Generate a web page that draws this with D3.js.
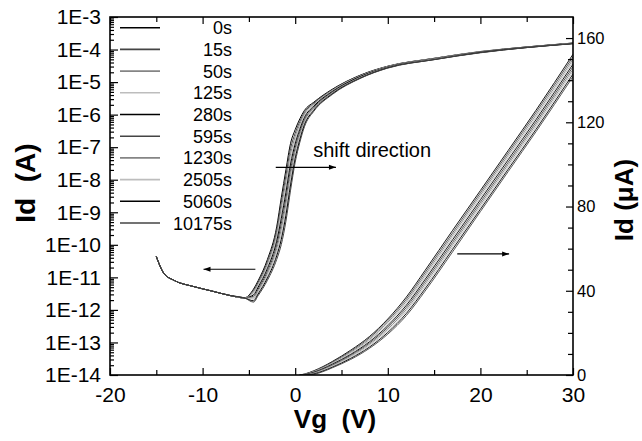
<!DOCTYPE html>
<html><head><meta charset="utf-8">
<script src="https://cdn.jsdelivr.net/npm/d3@7"></script>
<style>
html,body{margin:0;padding:0;background:#fff;}
svg{display:block;font-family:"Liberation Sans",Arial,sans-serif;}
</style></head>
<body><svg id="c" width="642" height="441"></svg>
<script>
// ---- data ----
const seriesNames = ["0s","15s","50s","125s","280s","595s","1230s","2505s","5060s","10175s"];
const seriesColors = ["#000000","#444444","#858585","#bdbdbd","#000000","#444444","#858585","#bdbdbd","#000000","#444444"];

// Log transfer curves (left axis): off-state part, shared by all stress times
const vgOff = [-15, -14.2, -13.1, -11, -9, -7, -5.5];
const log10IdOff = [-10.36, -10.87, -11.09, -11.28, -11.42, -11.56, -11.63];
// On / subthreshold part
const vgOn = [-4.5, -4, -3, -2, -1.5, -1, -0.5, 0, 0.5, 1, 2, 4, 7, 10, 15, 20, 25, 30];
const log10Id_0s     = [-11.36,-11.10,-10.45,-9.45,-8.55,-7.69,-6.88,-6.46,-6.13,-5.87,-5.62,-5.22,-4.79,-4.51,-4.27,-4.06,-3.92,-3.80];
const log10Id_15s    = [-11.40,-11.15,-10.52,-9.56,-8.71,-7.87,-7.04,-6.57,-6.21,-5.93,-5.65,-5.24,-4.80,-4.52,-4.27,-4.07,-3.92,-3.80];
const log10Id_50s    = [-11.45,-11.20,-10.59,-9.67,-8.87,-8.04,-7.20,-6.68,-6.29,-5.98,-5.68,-5.25,-4.81,-4.52,-4.28,-4.07,-3.92,-3.81];
const log10Id_125s   = [-11.49,-11.25,-10.66,-9.78,-9.03,-8.22,-7.36,-6.79,-6.37,-6.04,-5.71,-5.27,-4.82,-4.53,-4.28,-4.07,-3.93,-3.81];
const log10Id_280s   = [-11.54,-11.30,-10.73,-9.89,-9.19,-8.39,-7.52,-6.90,-6.45,-6.09,-5.74,-5.29,-4.83,-4.54,-4.29,-4.08,-3.93,-3.81];
const log10Id_595s   = [-11.58,-11.36,-10.81,-10.01,-9.35,-8.57,-7.68,-7.02,-6.53,-6.15,-5.78,-5.31,-4.85,-4.54,-4.29,-4.08,-3.93,-3.81];
const log10Id_1230s  = [-11.63,-11.41,-10.88,-10.12,-9.51,-8.74,-7.84,-7.13,-6.61,-6.20,-5.81,-5.33,-4.86,-4.55,-4.30,-4.09,-3.93,-3.81];
const log10Id_2505s  = [-11.67,-11.46,-10.95,-10.23,-9.67,-8.92,-8.00,-7.24,-6.69,-6.26,-5.84,-5.35,-4.87,-4.56,-4.30,-4.09,-3.94,-3.81];
const log10Id_5060s  = [-11.72,-11.51,-11.02,-10.34,-9.83,-9.09,-8.16,-7.35,-6.77,-6.31,-5.87,-5.36,-4.88,-4.56,-4.31,-4.09,-3.94,-3.82];
const log10Id_10175s = [-11.76,-11.56,-11.09,-10.45,-9.99,-9.27,-8.32,-7.46,-6.85,-6.37,-5.90,-5.38,-4.89,-4.57,-4.31,-4.10,-3.94,-3.82];

// Linear transfer curves (right axis, uA)
const vgLin = [0.5, 1, 2, 3, 4, 6, 8, 10, 12, 14, 17, 20, 23, 26, 30];
const idLin_0s     = [0.02,0.45,2.0,4.0,6.4,11.8,18.2,26.6,37.0,49.5,68.7,87.6,106.6,125.7,152.3];
const idLin_15s    = [0.01,0.35,1.8,3.7,6.1,11.3,17.6,25.8,36.0,48.4,67.5,86.5,105.5,124.6,151.1];
const idLin_50s    = [0,0.3,1.7,3.5,5.7,10.8,16.9,25.0,35.0,47.3,66.4,85.4,104.4,123.4,149.9];
const idLin_125s   = [0,0.2,1.5,3.3,5.4,10.3,16.4,24.2,34.1,46.3,65.3,84.3,103.3,122.3,148.8];
const idLin_280s   = [0,0.15,1.3,3.0,5.1,9.8,15.7,23.4,33.1,45.2,64.2,83.2,102.2,121.2,147.6];
const idLin_595s   = [0,0.1,1.1,2.8,4.7,9.4,15.1,22.6,32.1,44.1,63.0,82.0,101.0,120.0,146.4];
const idLin_1230s  = [0,0.05,0.9,2.5,4.4,8.9,14.5,21.8,31.1,43.0,61.9,80.9,99.9,118.9,145.2];
const idLin_2505s  = [0,0.02,0.7,2.2,4.1,8.4,13.9,21.0,30.2,41.9,60.8,79.8,98.8,117.8,144.1];
const idLin_5060s  = [0,0,0.5,1.9,3.7,7.9,13.2,20.2,29.2,40.8,59.7,78.7,97.7,116.6,142.9];
const idLin_10175s = [0,0,0.3,1.6,3.4,7.4,12.6,19.4,28.2,39.7,58.5,77.6,96.6,115.5,141.7];

const logSeries = [log10Id_0s,log10Id_15s,log10Id_50s,log10Id_125s,log10Id_280s,log10Id_595s,log10Id_1230s,log10Id_2505s,log10Id_5060s,log10Id_10175s];
const linSeries = [idLin_0s,idLin_15s,idLin_50s,idLin_125s,idLin_280s,idLin_595s,idLin_1230s,idLin_2505s,idLin_5060s,idLin_10175s];

// Axis ticks
const xMajor = [-20,-10,0,10,20,30];
const xMinor = [-15,-5,5,15,25];
const logDecades = [-14,-13,-12,-11,-10,-9,-8,-7,-6,-5,-4,-3];
const rightMajor = [0,40,80,120,160];
const rightMinor = [10,20,30,50,60,70,90,100,110,130,140,150];

// ---- chart ----
const svg = d3.select("#c");
const L = 110, R = 573, T = 17, B = 375;
const x = d3.scaleLinear([-20,30],[L,R]);
const yLog = d3.scaleLog([1e-14,1e-3],[B,T]);
const yLin = d3.scaleLinear([0,170],[B,T]);

svg.append("defs").append("clipPath").attr("id","clip")
  .append("rect").attr("x",L).attr("y",T).attr("width",R-L).attr("height",B-T);

const g = svg.append("g").attr("clip-path","url(#clip)");

const lineLog = d3.line().x(d=>x(d[0])).y(d=>yLog(d[1])).curve(d3.curveMonotoneX);
const lineLin = d3.line().x(d=>x(d[0])).y(d=>yLin(d[1])).curve(d3.curveMonotoneX);

linSeries.forEach((s,i)=>{
  const pts = vgLin.map((v,j)=>[v,s[j]]);
  g.append("path").attr("d",lineLin(pts)).attr("fill","none")
    .attr("stroke",seriesColors[i]).attr("stroke-width",0.9);
});
logSeries.forEach((s,i)=>{
  const pts = vgOff.map((v,j)=>[v,Math.pow(10,log10IdOff[j])])
    .concat(vgOn.map((v,j)=>[v,Math.pow(10,s[j])]));
  g.append("path").attr("d",lineLog(pts)).attr("fill","none")
    .attr("stroke",seriesColors[i]).attr("stroke-width",1);
});

// frame
svg.append("rect").attr("x",L).attr("y",T).attr("width",R-L).attr("height",B-T)
  .attr("fill","none").attr("stroke","#000").attr("stroke-width",1.6);

function styleAxis(sel, fs){
  sel.select(".domain").remove();
  sel.selectAll(".tick line").attr("stroke","#000").attr("stroke-width",1.2);
  sel.selectAll("text").attr("font-size",fs).attr("fill","#000")
    .attr("font-family","'Liberation Sans', Arial, sans-serif");
}
const plainNum = d => String(d);
// bottom
svg.append("g").attr("transform",`translate(0,${B})`)
  .call(d3.axisBottom(x).tickValues(xMajor).tickSize(-7).tickPadding(12).tickFormat(plainNum))
  .call(s=>styleAxis(s,21));
svg.append("g").attr("transform",`translate(0,${B})`)
  .call(d3.axisBottom(x).tickValues(xMinor).tickSize(-5).tickFormat(""))
  .call(s=>styleAxis(s,0));
// top
svg.append("g").attr("transform",`translate(0,${T})`)
  .call(d3.axisTop(x).tickValues(xMajor).tickSize(-7).tickFormat(""))
  .call(s=>styleAxis(s,0));
svg.append("g").attr("transform",`translate(0,${T})`)
  .call(d3.axisTop(x).tickValues(xMinor).tickSize(-5).tickFormat(""))
  .call(s=>styleAxis(s,0));
// left log
const logMajorVals = logDecades.map(e=>Math.pow(10,e));
const logMinorVals = [];
logDecades.slice(0,-1).forEach(e=>{ for(let k=2;k<=9;k++) logMinorVals.push(k*Math.pow(10,e)); });
svg.append("g").attr("transform",`translate(${L},0)`)
  .call(d3.axisLeft(yLog).tickValues(logMajorVals).tickSize(-8).tickPadding(9)
    .tickFormat(d=>"1E"+Math.round(Math.log10(d))))
  .call(s=>styleAxis(s,21));
svg.append("g").attr("transform",`translate(${L},0)`)
  .call(d3.axisLeft(yLog).tickValues(logMinorVals).tickSize(-4).tickFormat(""))
  .call(s=>styleAxis(s,0));
// right linear
svg.append("g").attr("transform",`translate(${R},0)`)
  .call(d3.axisRight(yLin).tickValues(rightMajor).tickSize(-7).tickPadding(4).tickFormat(plainNum))
  .call(s=>styleAxis(s,16.5));
svg.append("g").attr("transform",`translate(${R},0)`)
  .call(d3.axisRight(yLin).tickValues(rightMinor).tickSize(-5).tickFormat(""))
  .call(s=>styleAxis(s,0));

// axis titles
svg.append("text").attr("x",335).attr("y",428).attr("text-anchor","middle")
  .attr("font-size",26).attr("font-weight","bold").text("Vg\u00a0\u00a0(V)");
svg.append("text").attr("transform","translate(35,183) rotate(-90)").attr("text-anchor","middle")
  .attr("font-size",28).attr("font-weight","bold").text("Id\u00a0\u00a0(A)");
svg.append("text").attr("transform","translate(633,200) rotate(-90)").attr("text-anchor","middle")
  .attr("font-size",26).attr("font-weight","bold").text("Id\u00a0(\u03bcA)");

// legend
const lg = svg.append("g");
seriesNames.forEach((n,i)=>{
  const yy = 27.7 + i*21.7;
  lg.append("line").attr("x1",120).attr("x2",160).attr("y1",yy).attr("y2",yy)
    .attr("stroke",seriesColors[i]).attr("stroke-width",1.6);
  lg.append("text").attr("x",232).attr("y",yy+6.5).attr("text-anchor","end")
    .attr("font-size",18).text(n);
});

// annotations (data coordinates)
const arrowUpper = {vg:[-2.1,4.4], log10Id:-7.62};
const arrowLeft  = {vg:[-4.3,-9.9], log10Id:-10.75};
const arrowRight = {vg:[17.5,23.1], idLin:57.5};
const shiftLabel = {vg:1.95, log10Id:-7.29, text:"shift direction"};

function arrow(x1,x2,yy){
  svg.append("line").attr("x1",x1).attr("x2",x2).attr("y1",yy).attr("y2",yy)
    .attr("stroke","#000").attr("stroke-width",1.2);
  const dir = x2>x1?1:-1;
  svg.append("path").attr("d",`M${x2},${yy}L${x2-dir*7},${yy-2.5}L${x2-dir*7},${yy+2.5}Z`).attr("fill","#000");
}
arrow(x(arrowUpper.vg[0]),x(arrowUpper.vg[1]),yLog(Math.pow(10,arrowUpper.log10Id)));
arrow(x(arrowLeft.vg[0]),x(arrowLeft.vg[1]),yLog(Math.pow(10,arrowLeft.log10Id)));
arrow(x(arrowRight.vg[0]),x(arrowRight.vg[1]),yLin(arrowRight.idLin));
svg.append("text").attr("x",x(shiftLabel.vg)).attr("y",yLog(Math.pow(10,shiftLabel.log10Id)))
  .attr("font-size",20).text(shiftLabel.text);
</script></body></html>
